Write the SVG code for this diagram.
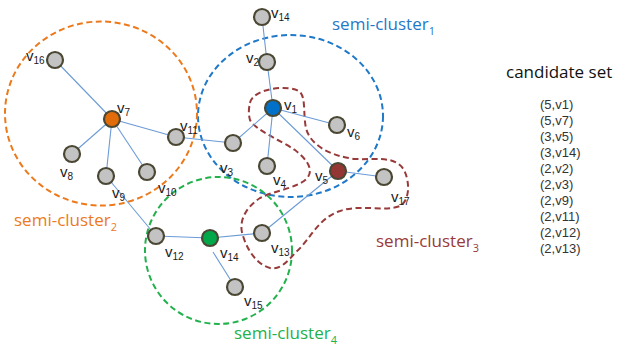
<svg xmlns="http://www.w3.org/2000/svg" width="618" height="346" viewBox="0 0 618 346">
<style>
.bg{fill:#ffffff}
.edge{stroke:#6b9bd6;stroke-width:1.1;fill:none}
.cl{fill:none;stroke-width:2;stroke-dasharray:6,3.5}
.n circle{stroke:#4a4733;stroke-width:2.2}
.g{fill:#c3c3c3}
.lbl{font-family:"Liberation Sans",Arial,sans-serif;font-size:15px;fill:#1a1a1a}
.sub{font-size:10px}
.ct{font-family:"Open Sans","Noto Sans",sans-serif;font-size:17px}
.cs{font-size:11px}
.cand{font-family:"Liberation Sans",Arial,sans-serif;font-size:13px;fill:#333}
</style>
<rect class="bg" x="0" y="0" width="618" height="346"/>
<g id="clusters">
<ellipse id="semi-cluster1-shape" class="cl" cx="290.5" cy="116" rx="92.5" ry="81" stroke="#1f78c8"/>
<ellipse id="semi-cluster2-shape" class="cl" cx="101" cy="113.5" rx="96" ry="92" stroke="#ec7a1c"/>
<ellipse id="semi-cluster4-shape" class="cl" cx="218.5" cy="250.5" rx="73.5" ry="73.5" stroke="#22b14c"/>
<path id="semi-cluster3-shape" class="cl" stroke="#983a3a" d="M250,103 C253,88 290,84 300,92 C306,98 303,115 306,128 C310,145 330,156 355,159 C375,160 395,155 404,170 C410,182 410,200 400,206 C385,212 360,204 340,211 C318,218 310,240 296,252 C287,262 280,270 270,268 C258,265 248,252 243,236 C238,222 245,208 260,198 C275,190 300,188 308,177 C314,168 305,158 295,150 C280,140 255,130 250,120 C248,113 249,107 250,103 Z"/>
</g>
<g id="connectors">
<line class="edge" x1="55" y1="60" x2="112" y2="119"/>
<line class="edge" x1="112" y1="119" x2="72" y2="154"/>
<line class="edge" x1="112" y1="119" x2="106" y2="176"/>
<line class="edge" x1="112" y1="119" x2="147" y2="172"/>
<line class="edge" x1="112" y1="119" x2="176" y2="137"/>
<line class="edge" x1="176" y1="137" x2="233" y2="143"/>
<line class="edge" x1="233" y1="143" x2="273" y2="108"/>
<line class="edge" x1="273" y1="108" x2="267" y2="62"/>
<line class="edge" x1="267" y1="62" x2="262" y2="17"/>
<line class="edge" x1="273" y1="108" x2="337" y2="125"/>
<line class="edge" x1="273" y1="108" x2="267" y2="166"/>
<line class="edge" x1="273" y1="108" x2="338" y2="171"/>
<line class="edge" x1="338" y1="171" x2="384" y2="177"/>
<line class="edge" x1="338" y1="171" x2="262" y2="233"/>
<line class="edge" x1="106" y1="176" x2="156" y2="236"/>
<line class="edge" x1="156" y1="236" x2="210" y2="238"/>
<line class="edge" x1="210" y1="238" x2="262" y2="233"/>
<line class="edge" x1="213" y1="252" x2="235" y2="287"/>
</g>
<g id="v16" class="n"><circle class="g" cx="55" cy="60" r="8"/><text class="lbl" x="26" y="61">v<tspan class="sub" dy="3">16</tspan></text></g>
<g id="v7" class="n"><circle cx="112" cy="119" r="8" fill="#e36c0a"/><text class="lbl" x="117" y="113">v<tspan class="sub" dy="3">7</tspan></text></g>
<g id="v8" class="n"><circle class="g" cx="72" cy="154" r="8"/><text class="lbl" x="60" y="177">v<tspan class="sub" dy="3">8</tspan></text></g>
<g id="v9" class="n"><circle class="g" cx="106" cy="176" r="8"/><text class="lbl" x="112" y="198">v<tspan class="sub" dy="3">9</tspan></text></g>
<g id="v10" class="n"><circle class="g" cx="147" cy="172" r="8"/><text class="lbl" x="158" y="193">v<tspan class="sub" dy="3">10</tspan></text></g>
<g id="v11" class="n"><circle class="g" cx="176" cy="137" r="8"/><text class="lbl" x="180" y="131">v<tspan class="sub" dy="3">11</tspan></text></g>
<g id="v3" class="n"><circle class="g" cx="233" cy="143" r="8"/><text class="lbl" x="220" y="173">v<tspan class="sub" dy="3">3</tspan></text></g>
<g id="v1" class="n"><circle cx="273" cy="108" r="8" fill="#0070c8"/><text class="lbl" x="284" y="110">v<tspan class="sub" dy="3">1</tspan></text></g>
<g id="v2" class="n"><circle class="g" cx="267" cy="62" r="8"/><text class="lbl" x="246" y="63">v<tspan class="sub" dy="3">2</tspan></text></g>
<g id="v14a" class="n"><circle class="g" cx="262" cy="17" r="8"/><text class="lbl" x="271" y="18">v<tspan class="sub" dy="3">14</tspan></text></g>
<g id="v6" class="n"><circle class="g" cx="337" cy="125" r="8"/><text class="lbl" x="347" y="137">v<tspan class="sub" dy="3">6</tspan></text></g>
<g id="v4" class="n"><circle class="g" cx="267" cy="166" r="8"/><text class="lbl" x="273" y="185">v<tspan class="sub" dy="3">4</tspan></text></g>
<g id="v5" class="n"><circle cx="338" cy="171" r="8" fill="#943634"/><text class="lbl" x="315" y="181">v<tspan class="sub" dy="3">5</tspan></text></g>
<g id="v17" class="n"><circle class="g" cx="384" cy="177" r="8"/><text class="lbl" x="391" y="202">v<tspan class="sub" dy="3">17</tspan></text></g>
<g id="v12" class="n"><circle class="g" cx="156" cy="236" r="8"/><text class="lbl" x="165" y="257">v<tspan class="sub" dy="3">12</tspan></text></g>
<g id="v14b" class="n"><circle cx="210" cy="238" r="8" fill="#00a84a"/><text class="lbl" x="220" y="258">v<tspan class="sub" dy="3">14</tspan></text></g>
<g id="v13" class="n"><circle class="g" cx="262" cy="233" r="8"/><text class="lbl" x="271" y="253">v<tspan class="sub" dy="3">13</tspan></text></g>
<g id="v15" class="n"><circle class="g" cx="235" cy="287" r="8"/><text class="lbl" x="244" y="306">v<tspan class="sub" dy="3">15</tspan></text></g>
<g id="labels">
<text class="ct" x="332" y="30" fill="#1f78c8">semi-cluster<tspan class="cs" dy="5">1</tspan></text>
<text class="ct" x="14" y="226" fill="#ec7a1c">semi-cluster<tspan class="cs" dy="5">2</tspan></text>
<text class="ct" x="376" y="247" fill="#983a3a">semi-cluster<tspan class="cs" dy="5">3</tspan></text>
<text class="ct" x="234" y="339" fill="#22b14c">semi-cluster<tspan class="cs" dy="5">4</tspan></text>
</g>
<g id="candidate-set">
<text class="ct" x="506" y="78" fill="#111" font-size="17.5">candidate set</text>
<text class="cand" x="540" y="108.5">(5,v1)</text>
<text class="cand" x="540" y="124.5">(5,v7)</text>
<text class="cand" x="540" y="140.5">(3,v5)</text>
<text class="cand" x="540" y="156.5">(3,v14)</text>
<text class="cand" x="540" y="172.5">(2,v2)</text>
<text class="cand" x="540" y="188.5">(2,v3)</text>
<text class="cand" x="540" y="204.5">(2,v9)</text>
<text class="cand" x="540" y="220.5">(2,v11)</text>
<text class="cand" x="540" y="236.5">(2,v12)</text>
<text class="cand" x="540" y="252.5">(2,v13)</text>
</g>
</svg>
